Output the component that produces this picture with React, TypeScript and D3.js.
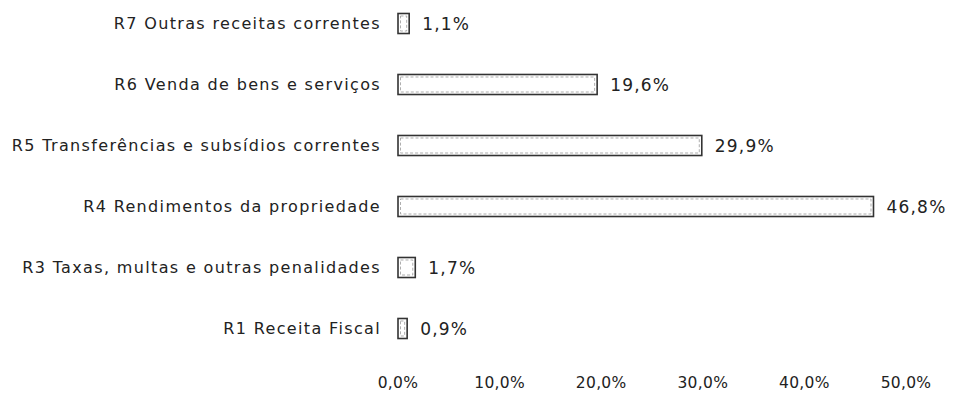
import React from "react";
import * as d3 from "d3";

const categories = [
  "R7 Outras receitas correntes",
  "R6 Venda de bens e serviços",
  "R5 Transferências e subsídios correntes",
  "R4 Rendimentos da propriedade",
  "R3 Taxas, multas e outras penalidades",
  "R1 Receita Fiscal",
];
const values = [1.1, 19.6, 29.9, 46.8, 1.7, 0.9];
const ticks = [0, 10, 20, 30, 40, 50];

const W = 954;
const H = 403;
const FONT = "'DejaVu Sans', Verdana, sans-serif";
const fmt = (v: number) => v.toFixed(1).replace(".", ",") + "%";

export default function App() {
  const x = d3.scaleLinear().domain([0, 50]).range([398, 906]);
  const y = d3
    .scaleBand<string>()
    .domain(categories)
    .range([-7, 359])
    .paddingInner(0.672)
    .paddingOuter(0.336);
  const bh = y.bandwidth();
  return (
    <svg
      width={W}
      height={H}
      style={{ position: "absolute", left: 0, top: 0, background: "#fff" }}
      fontFamily={FONT}
    >
      {categories.map((c, i) => {
        const y0 = y(c)!;
        const cy = y0 + bh / 2;
        return (
          <g key={c}>
            <text
              x={381}
              y={cy}
              textAnchor="end"
              dominantBaseline="central"
              fontSize={16}
              letterSpacing={1.35}
              fill="#222"
            >
              {c}
            </text>
            <rect
              x={x(0)}
              y={y0}
              width={x(values[i]) - x(0)}
              height={bh}
              fill="#fff"
              stroke="#333"
              strokeWidth={1.6}
            />
            <rect
              x={x(0) + 2.5}
              y={y0 + 2.5}
              width={Math.max(0, x(values[i]) - x(0) - 5)}
              height={bh - 5}
              fill="none"
              stroke="#999"
              strokeWidth={0.8}
              strokeDasharray="3 2"
            />
            <text
              x={x(values[i]) + 13}
              y={cy}
              dominantBaseline="central"
              fontSize={17}
              letterSpacing={1.2}
              fill="#222"
            >
              {fmt(values[i])}
            </text>
          </g>
        );
      })}
      {ticks.map((t) => (
        <text
          key={t}
          x={x(t)}
          y={383}
          textAnchor="middle"
          dominantBaseline="central"
          fontSize={15.5}
          letterSpacing={0.3}
          fill="#222"
        >
          {fmt(t)}
        </text>
      ))}
    </svg>
  );
}
